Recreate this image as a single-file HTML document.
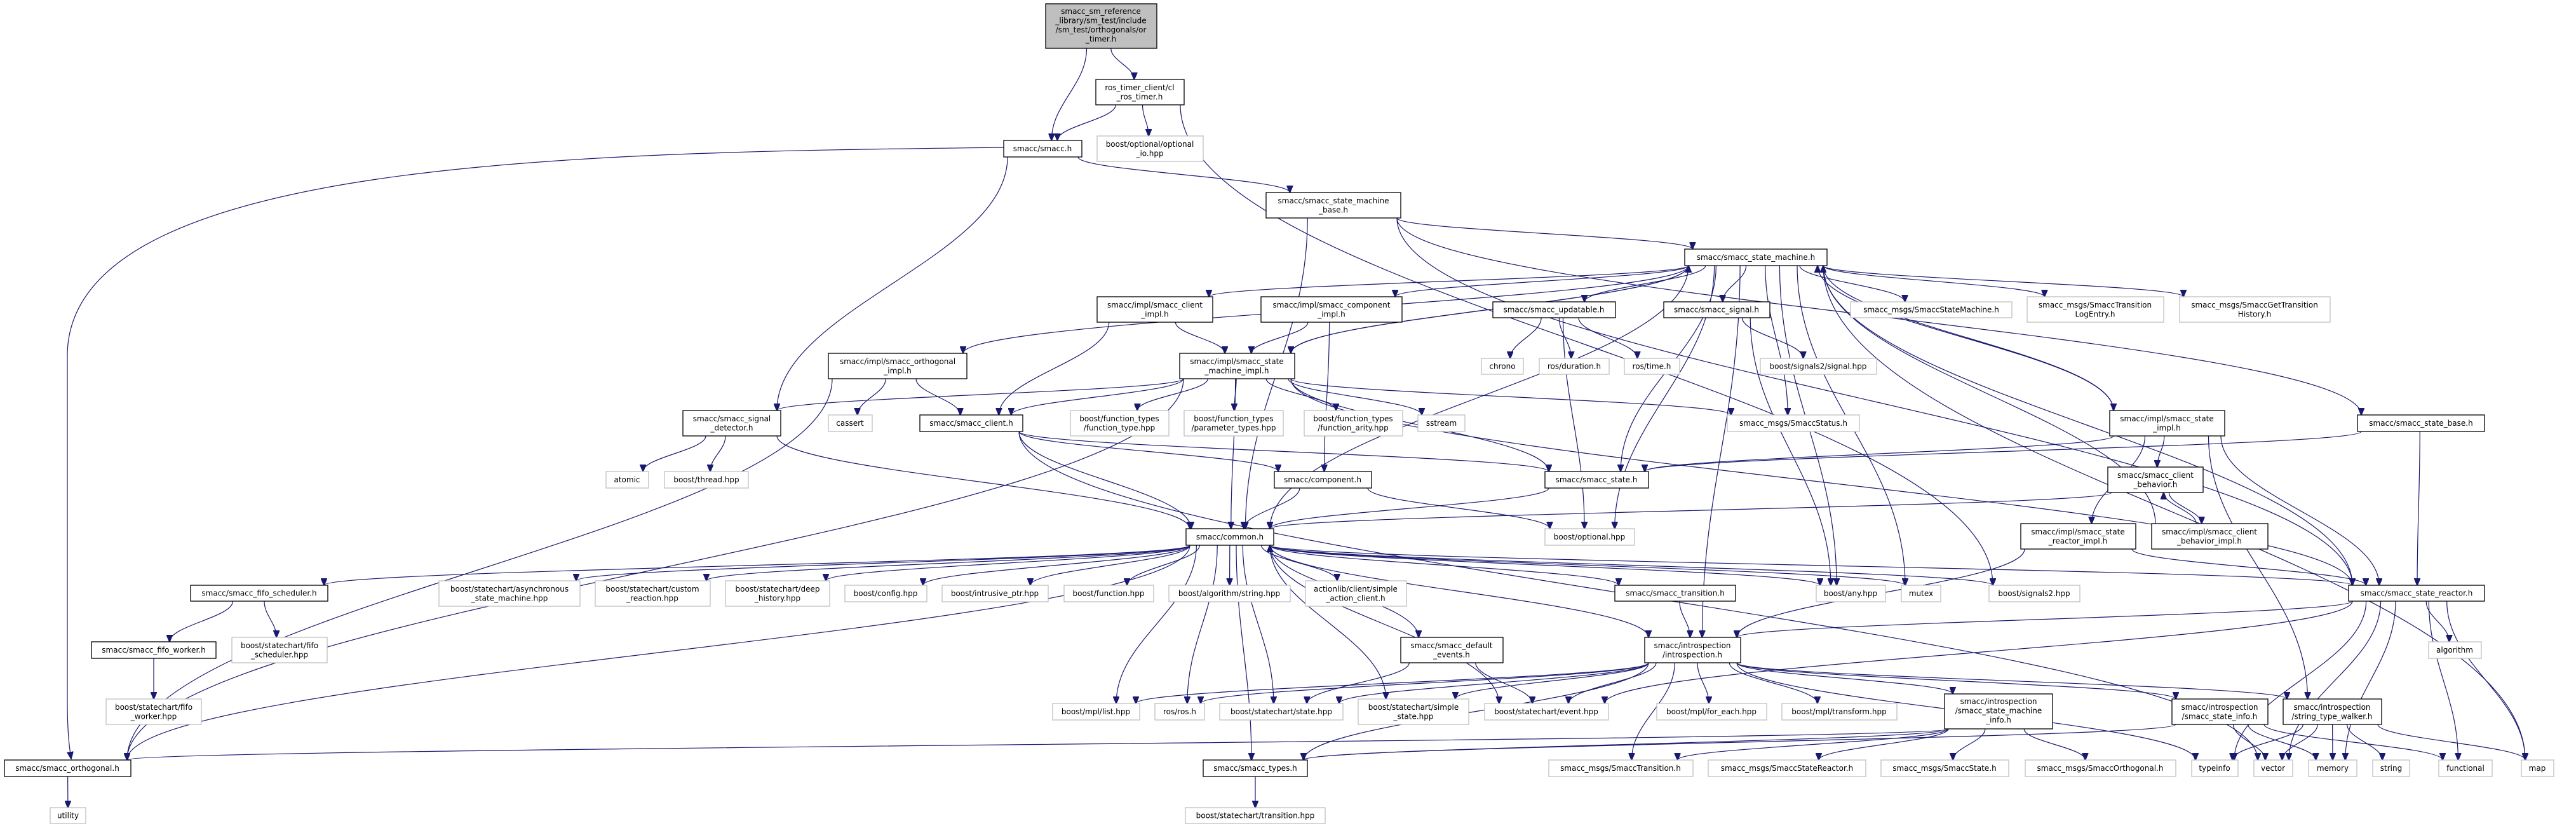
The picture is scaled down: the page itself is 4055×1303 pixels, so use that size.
<!DOCTYPE html>
<html><head><meta charset="utf-8"><style>
html,body{margin:0;padding:0;background:#fff;}
svg{display:block;}
text{font-family:"DejaVu Sans","Liberation Sans",sans-serif;font-size:12px;fill:#000;}
rect.b{fill:#fff;stroke:#000;stroke-width:1.3;}
rect.g{fill:#fff;stroke:#bfbfbf;stroke-width:1.3;}
rect.r{fill:#bfbfbf;stroke:#000;stroke-width:1.3;}
path.e{fill:none;stroke:#191970;stroke-width:1.2;}
</style></head><body>
<svg id="s" width="4055" height="1303" viewBox="0 0 4055 1303" xmlns="http://www.w3.org/2000/svg">
<defs><marker id="a" markerWidth="12" markerHeight="10" refX="11" refY="5" orient="auto" markerUnits="userSpaceOnUse"><path d="M0,0 L12,5 L0,10 z" fill="#191970" stroke="#191970"/></marker></defs>
<g id="edges"></g>
<g id="nodes">
<g id="root"><rect class="r" x="1646" y="6" width="175" height="70"/><text x="1733" y="22" text-anchor="middle">smacc_sm_reference</text><text x="1733" y="36.5" text-anchor="middle">_library/sm_test/include</text><text x="1733" y="51" text-anchor="middle">/sm_test/orthogonals/or</text><text x="1733" y="65.5" text-anchor="middle">_timer.h</text></g>
<g id="clt"><rect class="b" x="1725" y="125" width="139" height="40"/><text x="1794" y="142" text-anchor="middle">ros_timer_client/cl</text><text x="1794" y="156.5" text-anchor="middle">_ros_timer.h</text></g>
<g id="smacc"><rect class="b" x="1580" y="221" width="123" height="26"/><text x="1641" y="238" text-anchor="middle">smacc/smacc.h</text></g>
<g id="optio"><rect class="g" x="1727" y="214" width="167" height="40"/><text x="1810" y="231" text-anchor="middle">boost/optional/optional</text><text x="1810" y="245.5" text-anchor="middle">_io.hpp</text></g>
<g id="smb"><rect class="b" x="1993" y="303" width="212" height="40"/><text x="2099" y="320" text-anchor="middle">smacc/smacc_state_machine</text><text x="2099" y="334.5" text-anchor="middle">_base.h</text></g>
<g id="sm"><rect class="b" x="2652" y="392" width="224" height="26"/><text x="2764" y="409" text-anchor="middle">smacc/smacc_state_machine.h</text></g>
<g id="clim"><rect class="b" x="1727" y="467" width="182" height="40"/><text x="1818" y="484" text-anchor="middle">smacc/impl/smacc_client</text><text x="1818" y="498.5" text-anchor="middle">_impl.h</text></g>
<g id="coim"><rect class="b" x="1985" y="467" width="222" height="40"/><text x="2096" y="484" text-anchor="middle">smacc/impl/smacc_component</text><text x="2096" y="498.5" text-anchor="middle">_impl.h</text></g>
<g id="upd"><rect class="b" x="2350" y="475" width="193" height="25"/><text x="2446" y="491.5" text-anchor="middle">smacc/smacc_updatable.h</text></g>
<g id="sig"><rect class="b" x="2619" y="475" width="167" height="25"/><text x="2702" y="491.5" text-anchor="middle">smacc/smacc_signal.h</text></g>
<g id="ssm"><rect class="g" x="2913" y="475" width="254" height="25"/><text x="3040" y="491.5" text-anchor="middle">smacc_msgs/SmaccStateMachine.h</text></g>
<g id="tle"><rect class="g" x="3191" y="467" width="215" height="40"/><text x="3298" y="484" text-anchor="middle">smacc_msgs/SmaccTransition</text><text x="3298" y="498.5" text-anchor="middle">LogEntry.h</text></g>
<g id="gth"><rect class="g" x="3431" y="467" width="237" height="40"/><text x="3549" y="484" text-anchor="middle">smacc_msgs/SmaccGetTransition</text><text x="3549" y="498.5" text-anchor="middle">History.h</text></g>
<g id="orim"><rect class="b" x="1304" y="556" width="218" height="40"/><text x="1413" y="573" text-anchor="middle">smacc/impl/smacc_orthogonal</text><text x="1413" y="587.5" text-anchor="middle">_impl.h</text></g>
<g id="smim"><rect class="b" x="1857" y="556" width="181" height="40"/><text x="1947" y="573" text-anchor="middle">smacc/impl/smacc_state</text><text x="1947" y="587.5" text-anchor="middle">_machine_impl.h</text></g>
<g id="chrono"><rect class="g" x="2332" y="564" width="66" height="25"/><text x="2365" y="580.5" text-anchor="middle">chrono</text></g>
<g id="dur"><rect class="g" x="2423" y="564" width="110" height="25"/><text x="2478" y="580.5" text-anchor="middle">ros/duration.h</text></g>
<g id="time"><rect class="g" x="2557" y="564" width="87" height="25"/><text x="2600" y="580.5" text-anchor="middle">ros/time.h</text></g>
<g id="s2sig"><rect class="g" x="2771" y="564" width="183" height="25"/><text x="2862" y="580.5" text-anchor="middle">boost/signals2/signal.hpp</text></g>
<g id="sd"><rect class="b" x="1075" y="646" width="154" height="40"/><text x="1152" y="663" text-anchor="middle">smacc/smacc_signal</text><text x="1152" y="677.5" text-anchor="middle">_detector.h</text></g>
<g id="cassert"><rect class="g" x="1304" y="653" width="69" height="26"/><text x="1338" y="670" text-anchor="middle">cassert</text></g>
<g id="client"><rect class="b" x="1448" y="653" width="162" height="26"/><text x="1529" y="670" text-anchor="middle">smacc/smacc_client.h</text></g>
<g id="ft"><rect class="g" x="1685" y="646" width="155" height="40"/><text x="1762" y="663" text-anchor="middle">boost/function_types</text><text x="1762" y="677.5" text-anchor="middle">/function_type.hpp</text></g>
<g id="pt"><rect class="g" x="1864" y="646" width="156" height="40"/><text x="1942" y="663" text-anchor="middle">boost/function_types</text><text x="1942" y="677.5" text-anchor="middle">/parameter_types.hpp</text></g>
<g id="fa"><rect class="g" x="2053" y="646" width="155" height="40"/><text x="2130" y="663" text-anchor="middle">boost/function_types</text><text x="2130" y="677.5" text-anchor="middle">/function_arity.hpp</text></g>
<g id="sstream"><rect class="g" x="2232" y="653" width="74" height="26"/><text x="2269" y="670" text-anchor="middle">sstream</text></g>
<g id="status"><rect class="g" x="2719" y="653" width="208" height="26"/><text x="2823" y="670" text-anchor="middle">smacc_msgs/SmaccStatus.h</text></g>
<g id="stim"><rect class="b" x="3321" y="646" width="181" height="40"/><text x="3411" y="663" text-anchor="middle">smacc/impl/smacc_state</text><text x="3411" y="677.5" text-anchor="middle">_impl.h</text></g>
<g id="sbase"><rect class="b" x="3711" y="653" width="200" height="26"/><text x="3811" y="670" text-anchor="middle">smacc/smacc_state_base.h</text></g>
<g id="atomic"><rect class="g" x="954" y="742" width="67" height="26"/><text x="987" y="759" text-anchor="middle">atomic</text></g>
<g id="thread"><rect class="g" x="1046" y="742" width="132" height="26"/><text x="1112" y="759" text-anchor="middle">boost/thread.hpp</text></g>
<g id="comp"><rect class="b" x="2006" y="742" width="153" height="26"/><text x="2082" y="759" text-anchor="middle">smacc/component.h</text></g>
<g id="state"><rect class="b" x="2432" y="742" width="163" height="26"/><text x="2513" y="759" text-anchor="middle">smacc/smacc_state.h</text></g>
<g id="cb"><rect class="b" x="3318" y="735" width="150" height="40"/><text x="3393" y="752" text-anchor="middle">smacc/smacc_client</text><text x="3393" y="766.5" text-anchor="middle">_behavior.h</text></g>
<g id="common"><rect class="b" x="1867" y="832" width="138" height="26"/><text x="1936" y="849" text-anchor="middle">smacc/common.h</text></g>
<g id="opt"><rect class="g" x="2432" y="832" width="141" height="26"/><text x="2502" y="849" text-anchor="middle">boost/optional.hpp</text></g>
<g id="srim"><rect class="b" x="3181" y="824" width="181" height="40"/><text x="3271" y="841" text-anchor="middle">smacc/impl/smacc_state</text><text x="3271" y="855.5" text-anchor="middle">_reactor_impl.h</text></g>
<g id="cbim"><rect class="b" x="3387" y="824" width="183" height="40"/><text x="3478" y="841" text-anchor="middle">smacc/impl/smacc_client</text><text x="3478" y="855.5" text-anchor="middle">_behavior_impl.h</text></g>
<g id="fifos"><rect class="b" x="300" y="921" width="216" height="25"/><text x="408" y="937.5" text-anchor="middle">smacc/smacc_fifo_scheduler.h</text></g>
<g id="async"><rect class="g" x="691" y="914" width="222" height="40"/><text x="802" y="931" text-anchor="middle">boost/statechart/asynchronous</text><text x="802" y="945.5" text-anchor="middle">_state_machine.hpp</text></g>
<g id="custom"><rect class="g" x="937" y="914" width="181" height="40"/><text x="1027" y="931" text-anchor="middle">boost/statechart/custom</text><text x="1027" y="945.5" text-anchor="middle">_reaction.hpp</text></g>
<g id="deep"><rect class="g" x="1142" y="914" width="164" height="40"/><text x="1224" y="931" text-anchor="middle">boost/statechart/deep</text><text x="1224" y="945.5" text-anchor="middle">_history.hpp</text></g>
<g id="config"><rect class="g" x="1330" y="921" width="129" height="26"/><text x="1394" y="938" text-anchor="middle">boost/config.hpp</text></g>
<g id="intr"><rect class="g" x="1483" y="921" width="167" height="26"/><text x="1566" y="938" text-anchor="middle">boost/intrusive_ptr.hpp</text></g>
<g id="func"><rect class="g" x="1675" y="921" width="141" height="26"/><text x="1745" y="938" text-anchor="middle">boost/function.hpp</text></g>
<g id="algs"><rect class="g" x="1840" y="921" width="191" height="26"/><text x="1935" y="938" text-anchor="middle">boost/algorithm/string.hpp</text></g>
<g id="asc"><rect class="g" x="2055" y="914" width="159" height="40"/><text x="2134" y="931" text-anchor="middle">actionlib/client/simple</text><text x="2134" y="945.5" text-anchor="middle">_action_client.h</text></g>
<g id="trans"><rect class="b" x="2542" y="921" width="190" height="25"/><text x="2637" y="937.5" text-anchor="middle">smacc/smacc_transition.h</text></g>
<g id="any"><rect class="g" x="2859" y="921" width="109" height="26"/><text x="2913" y="938" text-anchor="middle">boost/any.hpp</text></g>
<g id="mutex"><rect class="g" x="2993" y="921" width="62" height="26"/><text x="3024" y="938" text-anchor="middle">mutex</text></g>
<g id="s2"><rect class="g" x="3131" y="921" width="143" height="26"/><text x="3202" y="938" text-anchor="middle">boost/signals2.hpp</text></g>
<g id="sr"><rect class="b" x="3697" y="921" width="214" height="25"/><text x="3804" y="937.5" text-anchor="middle">smacc/smacc_state_reactor.h</text></g>
<g id="fifosh"><rect class="g" x="365" y="1003" width="150" height="40"/><text x="440" y="1020" text-anchor="middle">boost/statechart/fifo</text><text x="440" y="1034.5" text-anchor="middle">_scheduler.hpp</text></g>
<g id="fifow"><rect class="b" x="144" y="1010" width="196" height="26"/><text x="242" y="1027" text-anchor="middle">smacc/smacc_fifo_worker.h</text></g>
<g id="de"><rect class="b" x="2205" y="1003" width="161" height="40"/><text x="2285" y="1020" text-anchor="middle">smacc/smacc_default</text><text x="2285" y="1034.5" text-anchor="middle">_events.h</text></g>
<g id="intro"><rect class="b" x="2589" y="1003" width="151" height="40"/><text x="2664" y="1020" text-anchor="middle">smacc/introspection</text><text x="2664" y="1034.5" text-anchor="middle">/introspection.h</text></g>
<g id="algo"><rect class="g" x="3823" y="1010" width="83" height="26"/><text x="3864" y="1027" text-anchor="middle">algorithm</text></g>
<g id="fifowh"><rect class="g" x="167" y="1100" width="150" height="40"/><text x="242" y="1117" text-anchor="middle">boost/statechart/fifo</text><text x="242" y="1131.5" text-anchor="middle">_worker.hpp</text></g>
<g id="mpll"><rect class="g" x="1657" y="1107" width="137" height="26"/><text x="1725" y="1124" text-anchor="middle">boost/mpl/list.hpp</text></g>
<g id="ros"><rect class="g" x="1818" y="1107" width="78" height="26"/><text x="1857" y="1124" text-anchor="middle">ros/ros.h</text></g>
<g id="sth"><rect class="g" x="1920" y="1107" width="194" height="26"/><text x="2017" y="1124" text-anchor="middle">boost/statechart/state.hpp</text></g>
<g id="ssh"><rect class="g" x="2138" y="1100" width="174" height="40"/><text x="2225" y="1117" text-anchor="middle">boost/statechart/simple</text><text x="2225" y="1131.5" text-anchor="middle">_state.hpp</text></g>
<g id="ev"><rect class="g" x="2337" y="1107" width="195" height="26"/><text x="2434" y="1124" text-anchor="middle">boost/statechart/event.hpp</text></g>
<g id="fe"><rect class="g" x="2608" y="1107" width="173" height="26"/><text x="2694" y="1124" text-anchor="middle">boost/mpl/for_each.hpp</text></g>
<g id="tr"><rect class="g" x="2805" y="1107" width="181" height="26"/><text x="2895" y="1124" text-anchor="middle">boost/mpl/transform.hpp</text></g>
<g id="smi"><rect class="b" x="3061" y="1092" width="170" height="55"/><text x="3146" y="1108" text-anchor="middle">smacc/introspection</text><text x="3146" y="1122.5" text-anchor="middle">/smacc_state_machine</text><text x="3146" y="1137" text-anchor="middle">_info.h</text></g>
<g id="sti"><rect class="b" x="3419" y="1100" width="151" height="40"/><text x="3494" y="1117" text-anchor="middle">smacc/introspection</text><text x="3494" y="1131.5" text-anchor="middle">/smacc_state_info.h</text></g>
<g id="stw"><rect class="b" x="3594" y="1100" width="155" height="40"/><text x="3671" y="1117" text-anchor="middle">smacc/introspection</text><text x="3671" y="1131.5" text-anchor="middle">/string_type_walker.h</text></g>
<g id="orth"><rect class="b" x="7" y="1196" width="199" height="26"/><text x="106" y="1213" text-anchor="middle">smacc/smacc_orthogonal.h</text></g>
<g id="types"><rect class="b" x="1894" y="1196" width="164" height="26"/><text x="1976" y="1213" text-anchor="middle">smacc/smacc_types.h</text></g>
<g id="mtr"><rect class="g" x="2438" y="1196" width="227" height="26"/><text x="2551" y="1213" text-anchor="middle">smacc_msgs/SmaccTransition.h</text></g>
<g id="msr"><rect class="g" x="2689" y="1196" width="248" height="26"/><text x="2813" y="1213" text-anchor="middle">smacc_msgs/SmaccStateReactor.h</text></g>
<g id="mst"><rect class="g" x="2961" y="1196" width="201" height="26"/><text x="3061" y="1213" text-anchor="middle">smacc_msgs/SmaccState.h</text></g>
<g id="mor"><rect class="g" x="3188" y="1196" width="237" height="26"/><text x="3306" y="1213" text-anchor="middle">smacc_msgs/SmaccOrthogonal.h</text></g>
<g id="typeinfo"><rect class="g" x="3450" y="1196" width="73" height="26"/><text x="3486" y="1213" text-anchor="middle">typeinfo</text></g>
<g id="vector"><rect class="g" x="3548" y="1196" width="61" height="26"/><text x="3578" y="1213" text-anchor="middle">vector</text></g>
<g id="memory"><rect class="g" x="3634" y="1196" width="76" height="26"/><text x="3672" y="1213" text-anchor="middle">memory</text></g>
<g id="string"><rect class="g" x="3735" y="1196" width="58" height="26"/><text x="3764" y="1213" text-anchor="middle">string</text></g>
<g id="functional"><rect class="g" x="3839" y="1196" width="84" height="26"/><text x="3881" y="1213" text-anchor="middle">functional</text></g>
<g id="map"><rect class="g" x="3969" y="1196" width="51" height="26"/><text x="3994" y="1213" text-anchor="middle">map</text></g>
<g id="utility"><rect class="g" x="79" y="1271" width="56" height="25"/><text x="107" y="1287.5" text-anchor="middle">utility</text></g>
<g id="sttr"><rect class="g" x="1866" y="1271" width="220" height="25"/><text x="1976" y="1287.5" text-anchor="middle">boost/statechart/transition.hpp</text></g>
</g>
</svg>
<script>
(function(){
var E="root>smacc root>clt clt>smacc clt>optio clt>s2 smacc>sd smacc>smb smb>sm smb>common smb>sr smb>sbase "+
"sm>clim sm>coim sm>orim sm>smim sm>upd sm>sig sm>ssm sm>tle sm>gth sm>stim sm>sr sm>common sm>state sm>status sm>any sm>mutex sm>intro sm>opt sm>map "+
"smim>sd smim>client smim>ft smim>pt smim>fa smim>sstream smim>status smim>sr smim>orth smim>state smim>sm smim>common "+
"clim>client clim>smim coim>smim coim>comp orim>cassert orim>client orim>orth sd>atomic sd>thread sd>common "+
"client>common client>state client>comp client>vector upd>chrono upd>dur upd>time upd>opt sig>s2sig sig>any comp>common comp>opt state>common "+
"common>async common>custom common>deep common>config common>intr common>func common>algs common>asc common>trans common>any common>mutex common>s2 common>fifos common>de common>intro common>mpll common>ros common>sth common>ssh common>ev common>types common>orth "+
"fifos>fifow fifos>fifosh fifow>fifowh orth>utility trans>intro de>sth de>ev "+
"intro>mpll intro>ros intro>sth intro>ssh intro>ev intro>fe intro>tr intro>types intro>smi intro>sti intro>stw intro>typeinfo intro>mtr types>sttr "+
"smi>mtr smi>msr smi>mst smi>mor smi>types smi>orth sti>vector sti>memory sti>functional sti>types "+
"stw>typeinfo stw>vector stw>memory stw>string stw>map sr>algo sr>vector sr>memory sr>functional sr>map sr>intro sr>common sr>ev sr>typeinfo "+
"stim>cb stim>srim stim>stw stim>sr stim>state stim>sm cb>cbim cb>common cbim>cb cbim>sm sbase>sr sbase>state srim>sr srim>intro";
function box(id){var r=document.querySelector('#'+id+' rect');var x=+r.getAttribute('x'),y=+r.getAttribute('y'),w=+r.getAttribute('width'),h=+r.getAttribute('height');return{x1:x,y1:y,x2:x+w,y2:y+h,cx:x+w/2,cy:y+h/2};}
function cl(v,a,b){return Math.max(a,Math.min(b,v));}
var g=document.getElementById('edges'),ns="http://www.w3.org/2000/svg";
function add(d){var e=document.createElementNS(ns,'path');e.setAttribute('d',d);e.setAttribute('class','e');e.setAttribute('marker-end','url(#a)');g.appendChild(e);}
add("M1580,232 C900,240 106,250 106,560 L106,1100 C106,1160 110,1180 112,1194");
E.split(' ').forEach(function(p){if(!p)return;var q=p.split('>'),a=box(q[0]),b=box(q[1]),d;
 if(b.y1>a.y2+4){var sx=cl(a.cx+(b.cx-a.cx)*0.25,a.x1+6,a.x2-6),sy=a.y2,tx=cl(b.cx+(a.cx-b.cx)*0.15,b.x1+6,b.x2-6),ty=b.y1,dy=ty-sy;
  d="M"+sx+","+sy+" C"+sx+","+(sy+dy*0.4)+" "+tx+","+(ty-dy*0.4)+" "+tx+","+ty;}
 else if(b.y2<a.y1-4){var sx=cl(a.cx+(b.cx-a.cx)*0.25,a.x1+6,a.x2-6),sy=a.y1,tx=cl(b.cx+(a.cx-b.cx)*0.15,b.x1+6,b.x2-6),ty=b.y2,dy=sy-ty;
  d="M"+sx+","+sy+" C"+sx+","+(sy-dy*0.4)+" "+tx+","+(ty+dy*0.4)+" "+tx+","+ty;}
 else{var sx,tx;if(b.cx>a.cx){sx=a.x2;tx=b.x1;}else{sx=a.x1;tx=b.x2;}d="M"+sx+","+a.cy+" C"+((sx+tx)/2)+","+(a.cy+30)+" "+((sx+tx)/2)+","+(b.cy+30)+" "+tx+","+b.cy;}
 add(d);});
})();
</script>
</body></html>
